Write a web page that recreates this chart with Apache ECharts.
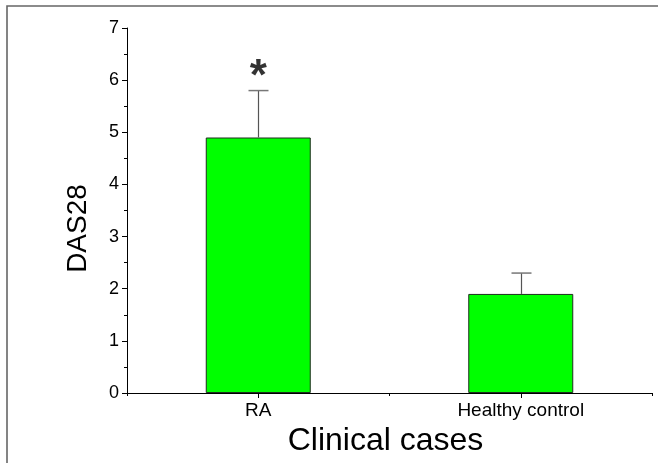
<!DOCTYPE html>
<html>
<head>
<meta charset="utf-8">
<script src="https://cdn.jsdelivr.net/npm/echarts@6/dist/echarts.min.js"></script>
<style>html,body{margin:0;padding:0;background:#fff}#c{width:658px;height:463px}</style>
</head>
<body>
<div id="c"></div>
<script>
var categories = ['RA', 'Healthy control'];
var means = [4.9, 1.9];
var errUpper = [5.8, 2.3];
var sigMarkY = [6.05, null];
var sigMarks = ['*', ''];
var yTicks = [0, 1, 2, 3, 4, 5, 6, 7];

var chart = echarts.init(document.getElementById('c'), null, {renderer: 'canvas'});
var font = 'Liberation Sans, Arial, sans-serif';

var option = {
  animation: false,
  backgroundColor: '#fff',
  graphic: [{
    type: 'polyline',
    shape: {points: [[7, 470], [7, 6], [660, 6]]},
    style: {stroke: '#666', lineWidth: 1.6, fill: null},
    silent: true
  }],
  grid: {left: 127, right: 6, top: 28, bottom: 70},
  xAxis: [{
    type: 'category',
    data: categories,
    boundaryGap: true,
    axisLine: {lineStyle: {color: '#000', width: 1}},
    axisTick: {show: true, alignWithLabel: true, length: 5, lineStyle: {color: '#000'}},
    axisLabel: {color: '#000', fontSize: 19, fontFamily: font, margin: 8},
    name: 'Clinical cases',
    nameLocation: 'middle',
    nameGap: 32,
    nameTextStyle: {color: '#000', fontSize: 32, fontFamily: font, padding: [0, 8, 0, 0]}
  }, {
    type: 'category',
    data: categories,
    position: 'bottom',
    boundaryGap: true,
    axisLine: {show: false},
    axisTick: {show: true, alignWithLabel: false, length: 3, lineStyle: {color: '#000'}},
    axisLabel: {show: false}
  }],
  yAxis: {
    type: 'value',
    min: 0, max: 7, interval: 1,
    axisLine: {show: true, lineStyle: {color: '#000', width: 1}},
    axisTick: {show: true, length: 5, lineStyle: {color: '#000'}},
    minorTick: {show: true, splitNumber: 2, length: 3, lineStyle: {color: '#000'}},
    splitLine: {show: false},
    axisLabel: {color: '#000', fontSize: 18, fontFamily: font, margin: 8,
      formatter: function (v) { return yTicks.indexOf(v) >= 0 ? String(v) : ''; }},
    name: 'DAS28',
    nameLocation: 'middle',
    nameGap: 35,
    nameTextStyle: {color: '#000', fontSize: 28, fontFamily: font, padding: [0, 36, 0, 0]}
  },
  series: [{
    type: 'bar',
    data: means,
    barWidth: 105,
    itemStyle: {color: '#00ff00', borderColor: '#1e2e1e', borderWidth: 1}
  }, {
    type: 'custom',
    data: categories.map(function (c, i) { return [i, means[i], errUpper[i]]; }),
    renderItem: function (params, api) {
      var base = api.coord([api.value(0), api.value(1)]);
      var top = api.coord([api.value(0), api.value(2)]);
      var x = Math.round(base[0]) + 0.5;
      var capHalf = 10;
      return {
        type: 'group',
        children: [{
          type: 'line',
          shape: {x1: x, y1: base[1], x2: x, y2: top[1]},
          style: {stroke: '#555', lineWidth: 1.2}
        }, {
          type: 'line',
          shape: {x1: x - capHalf, y1: top[1], x2: x + capHalf, y2: top[1]},
          style: {stroke: '#777', lineWidth: 1.5}
        }]
      };
    },
    z: 3
  }, {
    type: 'scatter',
    data: sigMarkY.map(function (v, i) { return v == null ? null : [i, v]; }).filter(function (d) { return d; }),
    symbolSize: 0,
    label: {
      show: true,
      position: 'inside',
      formatter: function (p) { return sigMarks[p.data[0]]; },
      color: '#000',
      fontSize: 44,
      fontWeight: 'bold',
      fontFamily: font
    }
  }]
};
chart.setOption(option);
</script>
</body>
</html>
